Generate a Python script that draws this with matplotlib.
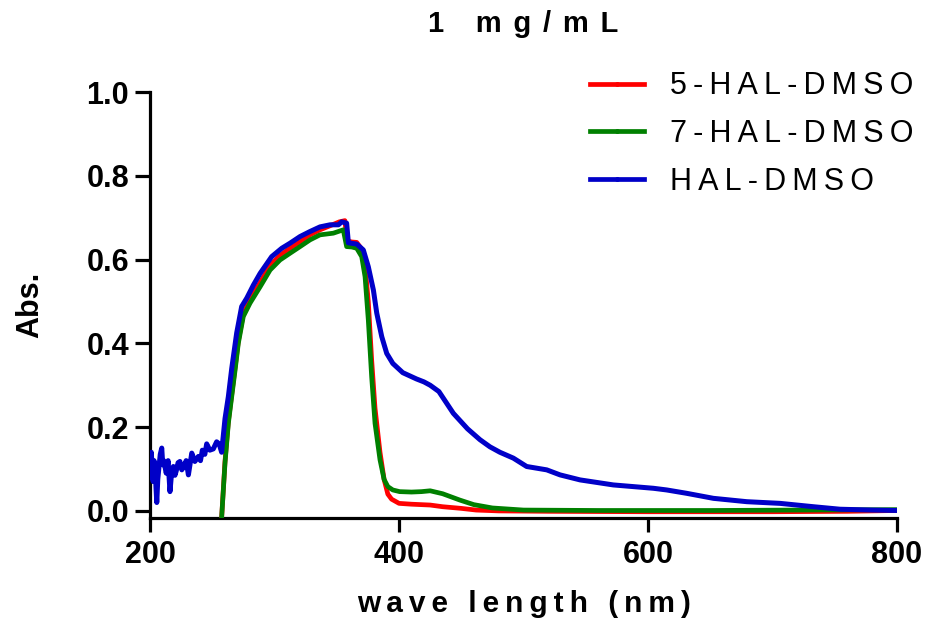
import matplotlib
matplotlib.use("Agg")
import matplotlib.pyplot as plt
from matplotlib.lines import Line2D

plt.rcParams["font.family"] = ["Liberation Sans", "DejaVu Sans"]

# wavelength (nm) and absorbance
hal_5_wl = [257.5, 260.2, 262.9, 265.6, 268.3, 270.9, 274.9, 280.3, 288.4, 296.4,
            304.4, 312.4, 320.5, 328.5, 336.5, 344.0, 352.0, 356.5, 358.2, 362.0,
            366.0, 370.0, 372.7, 375.3, 378.0, 380.7, 384.7, 388.0, 391.0, 394.0,
            400.0, 410.0, 425.0, 435.0, 450.0, 462.0, 480.0, 520.0, 600.0, 700.0,
            760.0, 800.0]
hal_5_abs = [-0.016, 0.118, 0.214, 0.278, 0.342, 0.405, 0.470, 0.505, 0.545, 0.586,
             0.610, 0.627, 0.643, 0.659, 0.671, 0.680, 0.690, 0.693, 0.645, 0.642,
             0.641, 0.625, 0.585, 0.500, 0.360, 0.245, 0.140, 0.075, 0.040, 0.028,
             0.018, 0.016, 0.014, 0.010, 0.006, 0.002, 0.000, -0.001, -0.002, -0.002,
             -0.001, 0.001]

hal_7_wl = [257.5, 260.2, 262.9, 265.6, 268.3, 270.9, 274.9, 280.3, 288.4, 296.4,
            304.4, 312.4, 320.5, 328.5, 336.5, 347.2, 355.2, 357.9, 362.0, 366.0,
            370.0, 372.7, 375.3, 378.0, 380.7, 384.7, 388.0, 391.0, 395.0, 400.5,
            410.0, 418.0, 425.0, 435.0, 448.7, 460.0, 475.0, 500.0, 560.0, 650.0,
            720.0, 800.0]
hal_7_abs = [-0.016, 0.114, 0.209, 0.273, 0.336, 0.400, 0.464, 0.496, 0.535, 0.575,
             0.599, 0.615, 0.631, 0.647, 0.659, 0.663, 0.671, 0.631, 0.630, 0.627,
             0.607, 0.559, 0.456, 0.320, 0.209, 0.122, 0.075, 0.058, 0.050, 0.046,
             0.045, 0.046, 0.048, 0.041, 0.026, 0.015, 0.007, 0.002, 0.001, 0.001,
             0.002, 0.003]

hal_wl = [200.0, 200.6, 201.0, 201.8, 202.5, 203.2, 204.0, 204.7, 205.4, 206.2,
          207.0, 208.2, 209.4, 210.2, 211.0, 212.0, 213.0, 214.5, 215.3, 216.0,
          217.3, 218.7, 220.0, 221.0, 222.5, 224.0, 225.5, 227.0, 229.0, 230.8,
          233.5, 236.0, 238.8, 240.5, 242.0, 244.0, 245.5, 248.0, 250.8, 253.5,
          255.5, 257.5, 260.2, 262.9, 265.6, 269.6, 273.6, 277.7, 283.0, 288.4,
          297.7, 305.8, 312.4, 320.5, 328.5, 336.5, 344.6, 351.3, 353.9, 357.9,
          359.3, 366.0, 371.3, 375.3, 379.4, 382.1, 386.1, 390.1, 395.0, 403.0,
          414.0, 420.0, 425.0, 432.0, 443.6, 455.0, 465.0, 473.0, 481.0, 491.8,
          502.5, 518.6, 529.3, 545.4, 572.1, 604.3, 615.0, 631.0, 652.5, 679.3,
          706.0, 732.8, 754.2, 780.0, 800.0]
hal_abs = [0.080, 0.125, 0.140, 0.095, 0.070, 0.120, 0.110, 0.060, 0.020, 0.075,
           0.100, 0.135, 0.150, 0.110, 0.120, 0.105, 0.090, 0.120, 0.080, 0.046,
           0.090, 0.106, 0.085, 0.095, 0.115, 0.118, 0.098, 0.105, 0.120, 0.086,
           0.138, 0.118, 0.130, 0.120, 0.145, 0.135, 0.160, 0.145, 0.148, 0.165,
           0.160, 0.140, 0.220, 0.273, 0.340, 0.425, 0.488, 0.508, 0.539, 0.567,
           0.607, 0.627, 0.639, 0.655, 0.667, 0.678, 0.683, 0.683, 0.690, 0.687,
           0.640, 0.637, 0.623, 0.583, 0.527, 0.472, 0.416, 0.376, 0.352, 0.330,
           0.315, 0.308, 0.300, 0.285, 0.233, 0.196, 0.170, 0.153, 0.140, 0.126,
           0.106, 0.098, 0.086, 0.074, 0.062, 0.054, 0.050, 0.042, 0.030, 0.022,
           0.018, 0.010, 0.004, 0.002, 0.001]

labels = ["5-HAL-DMSO", "7-HAL-DMSO", "HAL-DMSO"]
colors = ["#FF0000", "#008000", "#0000C8"]


def spaced(text, sep="\u2009"):
    # fake the wide GraphPad lettering with thin spaces
    return sep.join(text)


fig = plt.figure(figsize=(9.32, 6.23), dpi=100)
ax = fig.add_axes([0.161, 0.1685, 0.8015, 0.6838])

ax.plot(hal_5_wl, hal_5_abs, color=colors[0], lw=3.4, zorder=3)
ax.plot(hal_7_wl, hal_7_abs, color=colors[1], lw=3.4, zorder=4)
ax.plot(hal_wl, hal_abs, color=colors[2], lw=3.6, zorder=5)

ax.set_xlim(200, 800)
ax.set_ylim(-0.017, 1.0)
ax.set_xticks([200, 400, 600, 800])
ax.set_yticks([0.0, 0.2, 0.4, 0.6, 0.8, 1.0])
ax.set_yticklabels(["0.0", "0.2", "0.4", "0.6", "0.8", "1.0"])

for side in ["top", "right"]:
    ax.spines[side].set_visible(False)
for side in ["left", "bottom"]:
    ax.spines[side].set_linewidth(2.3)

ax.tick_params(axis="both", direction="out", width=2.3, labelsize=22)
ax.tick_params(axis="y", length=11, pad=4)
ax.tick_params(axis="x", length=10, pad=6)
for lab in ax.get_xticklabels() + ax.get_yticklabels():
    lab.set_fontweight("bold")

ax.set_xlabel(spaced("wave length (nm)"), fontsize=21.5, fontweight="bold", labelpad=14)
ax.set_ylabel("Abs.", fontsize=22, fontweight="bold", labelpad=30)
ax.set_title(spaced("1 mg/mL", "\u2009\u2009"), fontsize=21, fontweight="bold", pad=43)

handles = [Line2D([], [], color=c, lw=3.4, marker="o", ms=2.5) for c in colors]
fig.legend(handles, [spaced(l) for l in labels], loc="upper left",
           bbox_to_anchor=(0.62, 0.905), frameon=False, fontsize=22,
           handlelength=1.75, handletextpad=0.85, labelspacing=0.58,
           borderaxespad=0)

plt.savefig("out.png", dpi=100)
